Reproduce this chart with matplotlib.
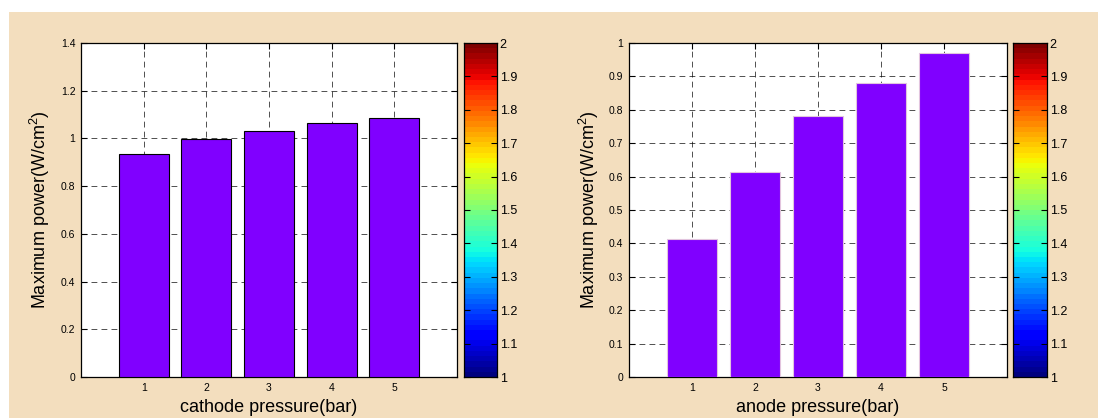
import numpy as np
import matplotlib
matplotlib.use("Agg")
import matplotlib.pyplot as plt
from matplotlib.patches import Rectangle
from matplotlib.colors import ListedColormap

plt.rcParams['font.family'] = ['Liberation Sans', 'DejaVu Sans']
plt.rcParams['mathtext.fontset'] = 'custom'
plt.rcParams['mathtext.rm'] = 'Liberation Sans'

pressures = [1, 2, 3, 4, 5]
cathode_power = [0.936, 0.997, 1.030, 1.063, 1.087]
anode_power = [0.412, 0.613, 0.781, 0.879, 0.969]
left_yticks = [0, 0.2, 0.4, 0.6, 0.8, 1.0, 1.2, 1.4]
right_yticks = [0, 0.1, 0.2, 0.3, 0.4, 0.5, 0.6, 0.7, 0.8, 0.9, 1.0]
cbar_ticks = [1.0, 1.1, 1.2, 1.3, 1.4, 1.5, 1.6, 1.7, 1.8, 1.9, 2.0]

bg = '#F3DEBE'
bar_color = '#8000FF'

W, H = 1098, 418
fig = plt.figure(figsize=(W / 100, H / 100), dpi=100, facecolor='white')
fig.patches.append(Rectangle((9 / W, 0), 1 - 9 / W, 1 - 12 / H, transform=fig.transFigure,
                             facecolor=bg, edgecolor='none', zorder=-10))


def fmt(v):
    s = ('%.1f' % v)
    if s.endswith('.0'):
        s = s[:-2]
    return s


def make_axes(x0, w, values, yticks, ymax, xlabel, edgecolor):
    ax = fig.add_axes([x0 / W, 1 - 377 / H, w / W, (377 - 43) / H])
    ax.set_facecolor('white')
    ax.bar(pressures, values, width=0.8, color=bar_color, edgecolor=edgecolor, linewidth=0.8, zorder=3)
    ax.set_xlim(0, 6)
    ax.set_ylim(0, ymax)
    ax.set_xticks(pressures)
    ax.set_xticklabels([str(p) for p in pressures], fontsize=7.5)
    ax.set_yticks(yticks)
    ax.set_yticklabels([fmt(v) for v in yticks], fontsize=7.5)
    ax.tick_params(direction='in', top=True, right=True, length=4, width=0.8, pad=4)
    ax.grid(True, color='black', linestyle=(0, (7, 5)), linewidth=0.6, alpha=0.8)
    ax.set_axisbelow(True)
    for s in ax.spines.values():
        s.set_linewidth(0.9)
        s.set_color('black')
    ax.set_xlabel(xlabel, fontsize=13, labelpad=5)
    ax.set_ylabel('Maximum power(W/cm$^2$)', fontsize=13, labelpad=6)
    return ax


def make_cbar(x0, w):
    cax = fig.add_axes([x0 / W, 1 - 377 / H, w / W, (377 - 43) / H])
    cmap = ListedColormap(plt.get_cmap('jet')(np.linspace(0, 1, 64)))
    grad = np.linspace(1, 2, 64).reshape(-1, 1)
    cax.imshow(grad, aspect='auto', cmap=cmap, origin='lower', extent=[0, 1, 1, 2],
               vmin=1, vmax=2, interpolation='nearest')
    cax.set_xlim(0, 1)
    cax.set_ylim(1, 2)
    cax.set_xticks([])
    cax.set_yticks(cbar_ticks)
    cax.set_yticklabels([fmt(v) for v in cbar_ticks], fontsize=9)
    cax.yaxis.tick_right()
    cax.tick_params(axis='y', direction='in', left=True, right=True, length=4, width=0.8, pad=2)
    for s in cax.spines.values():
        s.set_linewidth(0.9)
    return cax


make_axes(81, 376, cathode_power, left_yticks, 1.4, 'cathode pressure(bar)', 'black')
make_cbar(464, 33)
make_axes(629, 378, anode_power, right_yticks, 1.0, 'anode pressure(bar)', '#E2C4DE')
make_cbar(1013, 34)

fig.savefig('out.png', dpi=100, facecolor=fig.get_facecolor())
